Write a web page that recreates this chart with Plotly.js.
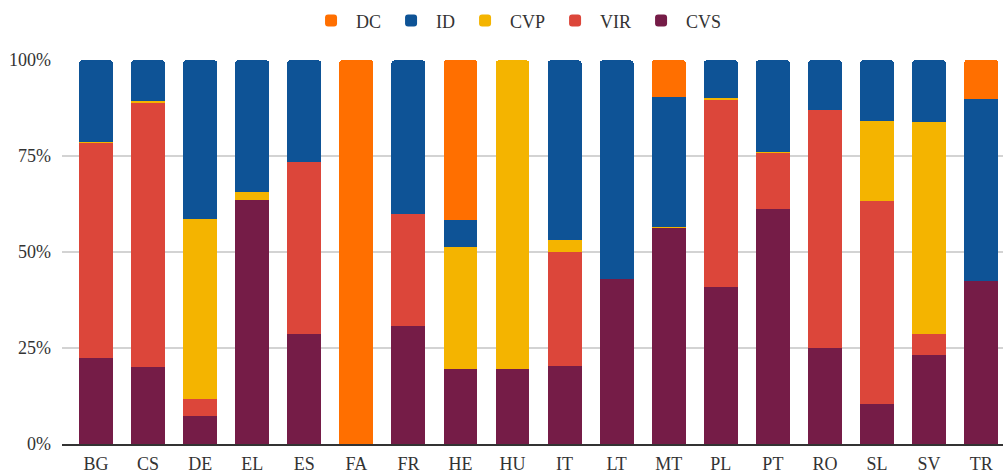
<!DOCTYPE html>
<html>
<head>
<meta charset="utf-8">
<script src="https://cdn.plot.ly/plotly-3.0.1.min.js"></script>
<style>html,body{margin:0;padding:0;background:#fff;}#chart{width:1003px;height:473px;}</style>
</head>
<body>
<div id="chart"></div>
<script>
const categories = ["BG","CS","DE","EL","ES","FA","FR","HE","HU","IT","LT","MT","PL","PT","RO","SL","SV","TR"];
const CVS = [22.3, 20.0, 7.3, 63.6, 28.6, 0, 30.7, 19.5, 19.5, 20.3, 42.9, 56.3, 40.8, 61.3, 24.9, 10.4, 23.1, 42.4];
const VIR = [56.0, 68.9, 4.4, 0, 44.9, 0, 29.1, 0, 0, 29.6, 0, 0, 48.9, 14.5, 62.1, 53.0, 5.5, 0];
const CVP = [0.3, 0.3, 47.0, 2.1, 0, 0, 0, 31.9, 80.4, 3.1, 0, 0.3, 0.3, 0.3, 0, 20.8, 55.3, 0];
const ID  = [21.3, 10.7, 41.2, 34.2, 26.4, 0, 40.1, 6.9, 0, 46.9, 57.0, 33.7, 9.9, 23.8, 12.9, 15.7, 16.0, 47.5];
const DC  = [0.1, 0.1, 0.1, 0.1, 0.1, 100, 0.1, 41.7, 0.1, 0.1, 0.1, 9.7, 0.1, 0.1, 0.1, 0.1, 0.1, 10.1];
const seriesNames = ["CVS","VIR","CVP","ID","DC"];
const seriesValues = [CVS, VIR, CVP, ID, DC];
const yTickVals = [0, 25, 50, 75, 100];
const yTickText = ["0%", "25%", "50%", "75%", "100%"];
const colors = ["#751C47","#DC463A","#F4B400","#0E5396","#FF6F00"];

const traces = seriesNames.map((n,i)=>({
  type:"bar", name:n, x:categories, y:seriesValues[i],
  marker:{color:colors[i], line:{width:0}},
  hoverinfo:"x+y+name"
}));

const font = "Liberation Serif";
Plotly.newPlot("chart", traces, {
  width:1003, height:473,
  barmode:"stack", bargap:0.35, barcornerradius:3,
  margin:{l:62, r:0, t:60, b:29},
  font:{family:font, size:18, color:"#333"},
  showlegend:true,
  legend:{orientation:"h", traceorder:"reversed", x:0.515, xref:"container", xanchor:"center", y:0.995, yanchor:"top", yref:"container", itemwidth:40, font:{family:font, size:18, color:"#333"}},
  xaxis:{type:"category", range:[-0.653,17.42], showline:true, linecolor:"#333", linewidth:1.5, ticks:"", tickfont:{family:font,size:18,color:"#333"}, showgrid:false, ticklabelstandoff:3},
  yaxis:{range:[0,100], tickmode:"array", tickvals:yTickVals, ticktext:yTickText, gridcolor:"#d3d3d3", gridwidth:1.5, zeroline:false, tickfont:{family:font,size:18,color:"#333"}, ticklabelstandoff:10},
  plot_bgcolor:"#fff", paper_bgcolor:"#fff"
}, {displayModeBar:false, staticPlot:true});
</script>
</body>
</html>
